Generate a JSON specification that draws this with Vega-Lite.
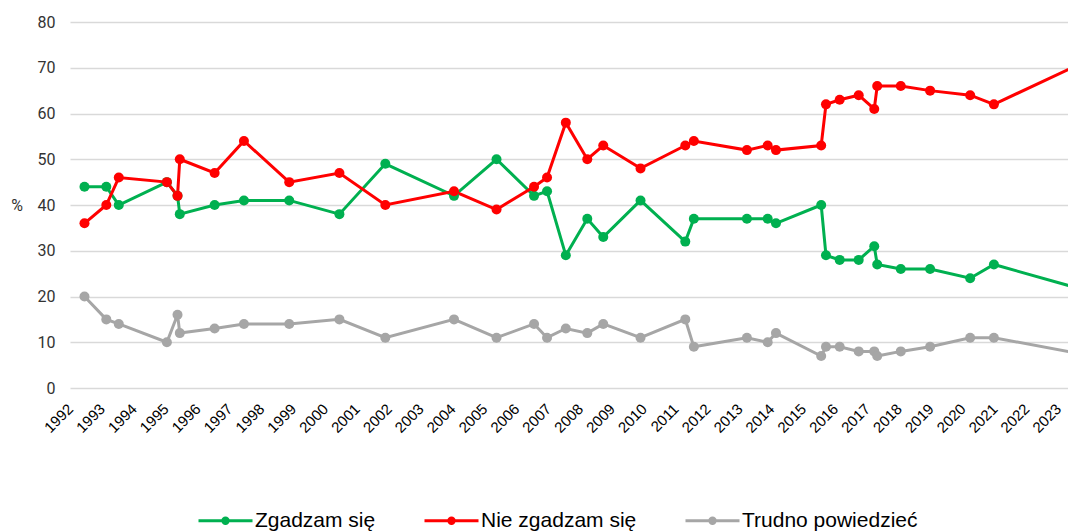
{
  "$schema": "https://vega.github.io/schema/vega-lite/v6.json",
  "width": 998,
  "height": 366,
  "autosize": {"type": "none"},
  "padding": {"left": 70, "top": 22, "right": 0, "bottom": 143},
  "background": "white",
  "config": {"view": {"stroke": null}, "font": "Roboto"},
  "data": {
    "values": [
      {"date": "1992-06-15", "series": "Zgadzam się", "value": 44},
      {"date": "1993-02-20", "series": "Zgadzam się", "value": 44},
      {"date": "1993-07-13", "series": "Zgadzam się", "value": 40},
      {"date": "1995-01-15", "series": "Zgadzam się", "value": 45},
      {"date": "1995-05-17", "series": "Zgadzam się", "value": 42},
      {"date": "1995-06-12", "series": "Zgadzam się", "value": 38},
      {"date": "1996-07-15", "series": "Zgadzam się", "value": 40},
      {"date": "1997-06-16", "series": "Zgadzam się", "value": 41},
      {"date": "1998-11-17", "series": "Zgadzam się", "value": 41},
      {"date": "2000-06-14", "series": "Zgadzam się", "value": 38},
      {"date": "2001-11-22", "series": "Zgadzam się", "value": 49},
      {"date": "2004-01-18", "series": "Zgadzam się", "value": 42},
      {"date": "2005-05-19", "series": "Zgadzam się", "value": 50},
      {"date": "2006-07-23", "series": "Zgadzam się", "value": 42},
      {"date": "2006-12-19", "series": "Zgadzam się", "value": 43},
      {"date": "2007-07-22", "series": "Zgadzam się", "value": 29},
      {"date": "2008-03-24", "series": "Zgadzam się", "value": 37},
      {"date": "2008-09-23", "series": "Zgadzam się", "value": 33},
      {"date": "2009-11-24", "series": "Zgadzam się", "value": 41},
      {"date": "2011-04-21", "series": "Zgadzam się", "value": 32},
      {"date": "2011-07-28", "series": "Zgadzam się", "value": 37},
      {"date": "2013-03-27", "series": "Zgadzam się", "value": 37},
      {"date": "2013-11-20", "series": "Zgadzam się", "value": 37},
      {"date": "2014-02-23", "series": "Zgadzam się", "value": 36},
      {"date": "2015-07-26", "series": "Zgadzam się", "value": 40},
      {"date": "2015-09-19", "series": "Zgadzam się", "value": 29},
      {"date": "2016-02-23", "series": "Zgadzam się", "value": 28},
      {"date": "2016-09-28", "series": "Zgadzam się", "value": 28},
      {"date": "2017-03-25", "series": "Zgadzam się", "value": 31},
      {"date": "2017-04-28", "series": "Zgadzam się", "value": 27},
      {"date": "2018-01-23", "series": "Zgadzam się", "value": 26},
      {"date": "2018-12-25", "series": "Zgadzam się", "value": 26},
      {"date": "2020-03-28", "series": "Zgadzam się", "value": 24},
      {"date": "2020-12-25", "series": "Zgadzam się", "value": 27},
      {"date": "2024-01-15", "series": "Zgadzam się", "value": 21},
      {"date": "1992-06-15", "series": "Nie zgadzam się", "value": 36},
      {"date": "1993-02-20", "series": "Nie zgadzam się", "value": 40},
      {"date": "1993-07-13", "series": "Nie zgadzam się", "value": 46},
      {"date": "1995-01-15", "series": "Nie zgadzam się", "value": 45},
      {"date": "1995-05-17", "series": "Nie zgadzam się", "value": 42},
      {"date": "1995-06-12", "series": "Nie zgadzam się", "value": 50},
      {"date": "1996-07-15", "series": "Nie zgadzam się", "value": 47},
      {"date": "1997-06-16", "series": "Nie zgadzam się", "value": 54},
      {"date": "1998-11-17", "series": "Nie zgadzam się", "value": 45},
      {"date": "2000-06-14", "series": "Nie zgadzam się", "value": 47},
      {"date": "2001-11-22", "series": "Nie zgadzam się", "value": 40},
      {"date": "2004-01-18", "series": "Nie zgadzam się", "value": 43},
      {"date": "2005-05-19", "series": "Nie zgadzam się", "value": 39},
      {"date": "2006-07-23", "series": "Nie zgadzam się", "value": 44},
      {"date": "2006-12-19", "series": "Nie zgadzam się", "value": 46},
      {"date": "2007-07-22", "series": "Nie zgadzam się", "value": 58},
      {"date": "2008-03-24", "series": "Nie zgadzam się", "value": 50},
      {"date": "2008-09-23", "series": "Nie zgadzam się", "value": 53},
      {"date": "2009-11-24", "series": "Nie zgadzam się", "value": 48},
      {"date": "2011-04-21", "series": "Nie zgadzam się", "value": 53},
      {"date": "2011-07-28", "series": "Nie zgadzam się", "value": 54},
      {"date": "2013-03-27", "series": "Nie zgadzam się", "value": 52},
      {"date": "2013-11-20", "series": "Nie zgadzam się", "value": 53},
      {"date": "2014-02-23", "series": "Nie zgadzam się", "value": 52},
      {"date": "2015-07-26", "series": "Nie zgadzam się", "value": 53},
      {"date": "2015-09-19", "series": "Nie zgadzam się", "value": 62},
      {"date": "2016-02-23", "series": "Nie zgadzam się", "value": 63},
      {"date": "2016-09-28", "series": "Nie zgadzam się", "value": 64},
      {"date": "2017-03-25", "series": "Nie zgadzam się", "value": 61},
      {"date": "2017-04-28", "series": "Nie zgadzam się", "value": 66},
      {"date": "2018-01-23", "series": "Nie zgadzam się", "value": 66},
      {"date": "2018-12-25", "series": "Nie zgadzam się", "value": 65},
      {"date": "2020-03-28", "series": "Nie zgadzam się", "value": 64},
      {"date": "2020-12-25", "series": "Nie zgadzam się", "value": 62},
      {"date": "2024-01-15", "series": "Nie zgadzam się", "value": 72},
      {"date": "1992-06-15", "series": "Trudno powiedzieć", "value": 20},
      {"date": "1993-02-20", "series": "Trudno powiedzieć", "value": 15},
      {"date": "1993-07-13", "series": "Trudno powiedzieć", "value": 14},
      {"date": "1995-01-15", "series": "Trudno powiedzieć", "value": 10},
      {"date": "1995-05-17", "series": "Trudno powiedzieć", "value": 16},
      {"date": "1995-06-12", "series": "Trudno powiedzieć", "value": 12},
      {"date": "1996-07-15", "series": "Trudno powiedzieć", "value": 13},
      {"date": "1997-06-16", "series": "Trudno powiedzieć", "value": 14},
      {"date": "1998-11-17", "series": "Trudno powiedzieć", "value": 14},
      {"date": "2000-06-14", "series": "Trudno powiedzieć", "value": 15},
      {"date": "2001-11-22", "series": "Trudno powiedzieć", "value": 11},
      {"date": "2004-01-18", "series": "Trudno powiedzieć", "value": 15},
      {"date": "2005-05-19", "series": "Trudno powiedzieć", "value": 11},
      {"date": "2006-07-23", "series": "Trudno powiedzieć", "value": 14},
      {"date": "2006-12-19", "series": "Trudno powiedzieć", "value": 11},
      {"date": "2007-07-22", "series": "Trudno powiedzieć", "value": 13},
      {"date": "2008-03-24", "series": "Trudno powiedzieć", "value": 12},
      {"date": "2008-09-23", "series": "Trudno powiedzieć", "value": 14},
      {"date": "2009-11-24", "series": "Trudno powiedzieć", "value": 11},
      {"date": "2011-04-21", "series": "Trudno powiedzieć", "value": 15},
      {"date": "2011-07-28", "series": "Trudno powiedzieć", "value": 9},
      {"date": "2013-03-27", "series": "Trudno powiedzieć", "value": 11},
      {"date": "2013-11-20", "series": "Trudno powiedzieć", "value": 10},
      {"date": "2014-02-23", "series": "Trudno powiedzieć", "value": 12},
      {"date": "2015-07-26", "series": "Trudno powiedzieć", "value": 7},
      {"date": "2015-09-19", "series": "Trudno powiedzieć", "value": 9},
      {"date": "2016-02-23", "series": "Trudno powiedzieć", "value": 9},
      {"date": "2016-09-28", "series": "Trudno powiedzieć", "value": 8},
      {"date": "2017-03-25", "series": "Trudno powiedzieć", "value": 8},
      {"date": "2017-04-28", "series": "Trudno powiedzieć", "value": 7},
      {"date": "2018-01-23", "series": "Trudno powiedzieć", "value": 8},
      {"date": "2018-12-25", "series": "Trudno powiedzieć", "value": 9},
      {"date": "2020-03-28", "series": "Trudno powiedzieć", "value": 11},
      {"date": "2020-12-25", "series": "Trudno powiedzieć", "value": 11},
      {"date": "2024-01-15", "series": "Trudno powiedzieć", "value": 7}
    ]
  },
  "encoding": {
    "x": {
      "field": "date",
      "type": "temporal",
      "scale": {
        "type": "utc",
        "domain": [
          {"year": 1992, "month": 1, "date": 1, "utc": true},
          {"year": 2023, "month": 4, "date": 23, "utc": true}
        ]
      },
      "axis": {
        "title": null,
        "format": "%Y",
        "tickCount": {"interval": "year", "step": 1},
        "labelAngle": -45,
        "labelAlign": "right",
        "labelBaseline": "middle",
        "labelFont": "Liberation Sans",
        "labelFontSize": 15,
        "labelColor": "#000000",
        "labelPadding": 18,
        "labelOverlap": false,
        "labelFlush": false,
        "ticks": false,
        "domain": false,
        "grid": false
      }
    },
    "y": {
      "field": "value",
      "type": "quantitative",
      "scale": {"domain": [0, 80]},
      "axis": {
        "title": "%",
        "titleAngle": 0,
        "titleX": -53.5,
        "titleY": 183,
        "titleAlign": "center",
        "titleBaseline": "middle",
        "titleFont": "Roboto",
        "titleFontSize": 16,
        "titleFontWeight": "normal",
        "titleColor": "#333333",
        "values": [0, 10, 20, 30, 40, 50, 60, 70, 80],
        "labelFont": "Roboto",
        "labelFontSize": 16,
        "labelColor": "#333333",
        "labelPadding": 15,
        "ticks": false,
        "domain": false,
        "grid": true,
        "gridColor": "#D9D9D9",
        "gridWidth": 1.5
      }
    },
    "color": {
      "field": "series",
      "type": "nominal",
      "scale": {
        "domain": ["Zgadzam się", "Nie zgadzam się", "Trudno powiedzieć"],
        "range": ["#00B050", "#FF0000", "#A6A6A6"]
      },
      "legend": {
        "orient": "none",
        "legendX": 127,
        "legendY": 470,
        "direction": "horizontal",
        "title": null,
        "padding": 0,
        "symbolType": "M-1,0H1M0.1,0A0.1,0.1,0,1,1,-0.1,0A0.1,0.1,0,1,1,0.1,0",
        "symbolSize": 2916,
        "symbolStrokeWidth": 3,
        "labelFont": "Liberation Sans",
        "labelFontSize": 21,
        "labelColor": "#000000",
        "labelOffset": 1,
        "labelLimit": 400,
        "columnPadding": 42,
        "encode": {
          "symbols": {
            "update": {
              "stroke": {"scale": "color", "field": "value"},
              "fill": {"scale": "color", "field": "value"},
              "strokeWidth": {"value": 3},
              "opacity": {"value": 1}
            }
          }
        }
      }
    }
  },
  "layer": [
    {"mark": {"type": "line", "strokeWidth": 3, "clip": true}},
    {"mark": {"type": "point", "filled": true, "size": 100, "opacity": 1, "clip": true}}
  ]
}
